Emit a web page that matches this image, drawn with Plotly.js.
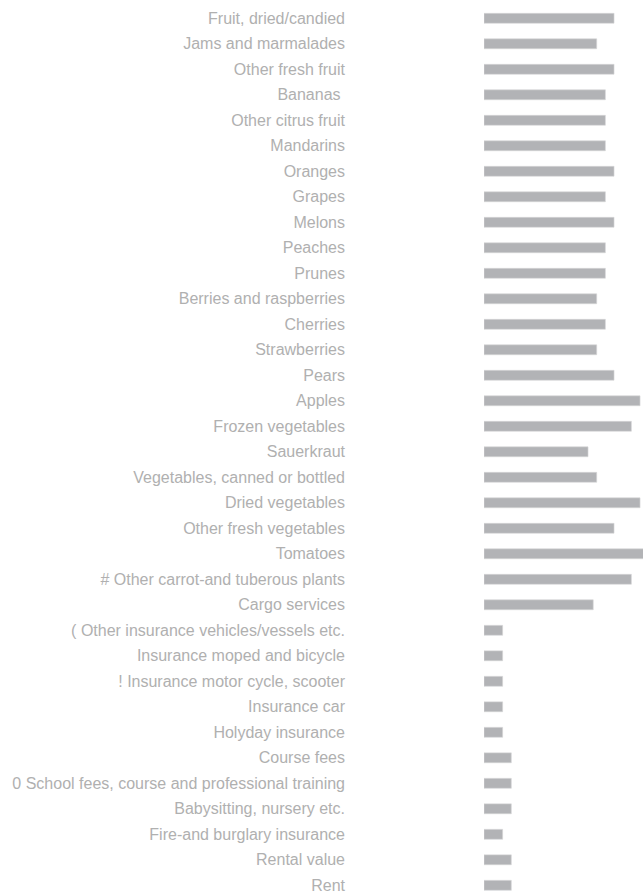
<!DOCTYPE html>
<html>
<head>
<meta charset="utf-8">
<script src="https://cdn.plot.ly/plotly-3.0.1.min.js"></script>
<style>html,body{margin:0;padding:0;background:#fff;}#chart{width:643px;height:894px;}</style>
</head>
<body>
<div id="chart"></div>
<script>
const categories = [
  "Fruit, dried/candied",
  "Jams and marmalades",
  "Other fresh fruit",
  "Bananas ",
  "Other citrus fruit",
  "Mandarins",
  "Oranges",
  "Grapes",
  "Melons",
  "Peaches",
  "Prunes",
  "Berries and raspberries",
  "Cherries",
  "Strawberries",
  "Pears",
  "Apples",
  "Frozen vegetables",
  "Sauerkraut",
  "Vegetables, canned or bottled",
  "Dried vegetables",
  "Other fresh vegetables",
  "Tomatoes",
  "# Other carrot-and tuberous plants",
  "Cargo services",
  "( Other insurance vehicles/vessels etc.",
  "Insurance moped and bicycle",
  "! Insurance motor cycle, scooter",
  "Insurance car",
  "Holyday insurance",
  "Course fees",
  "0 School fees, course and professional training",
  "Babysitting, nursery etc.",
  "Fire-and burglary insurance",
  "Rental value",
  "Rent"
];
const values = [
  15, 13, 15, 14, 14, 14, 15, 14, 15, 14, 14, 13,
  14, 13, 15, 18, 17, 12, 13, 18, 15, 19, 17,
  12.6, 2.15, 2.15, 2.15, 2.15, 2.15,
  3.15, 3.15, 3.15, 2.15, 3.15, 3.15
];

const W = 643, H = 894;
const firstCenter = 18.3, step = 25.5;
const barStart = 484, unitPx = 8.67;

const trace = {
  type: 'bar',
  orientation: 'h',
  x: values,
  y: categories,
  width: 0.39,
  marker: {color: '#b2b3b6', line: {color: '#d6d7d9', width: 0.6}},
  hoverinfo: 'y+x'
};

const layout = {
  width: W,
  height: H,
  margin: {l: barStart, r: 0, t: 0, b: 0, pad: 0},
  paper_bgcolor: '#ffffff',
  plot_bgcolor: '#ffffff',
  showlegend: false,
  font: {family: '"Liberation Sans", Arial, Helvetica, sans-serif', size: 16, color: '#b0b0b0'},
  xaxis: {
    range: [0, (W - barStart) / unitPx],
    showgrid: false, zeroline: false, showline: false, showticklabels: false, ticks: ''
  },
  yaxis: {
    type: 'category',
    range: [(H - firstCenter) / step, -firstCenter / step],
    showgrid: false, zeroline: false, showline: false, ticks: '',
    automargin: false,
    ticklabelstandoff: 138,
    tickfont: {family: '"Liberation Sans", Arial, Helvetica, sans-serif', size: 16, color: '#b0b0b0'}
  }
};

Plotly.newPlot('chart', [trace], layout, {displayModeBar: false, staticPlot: true});
</script>
</body>
</html>
